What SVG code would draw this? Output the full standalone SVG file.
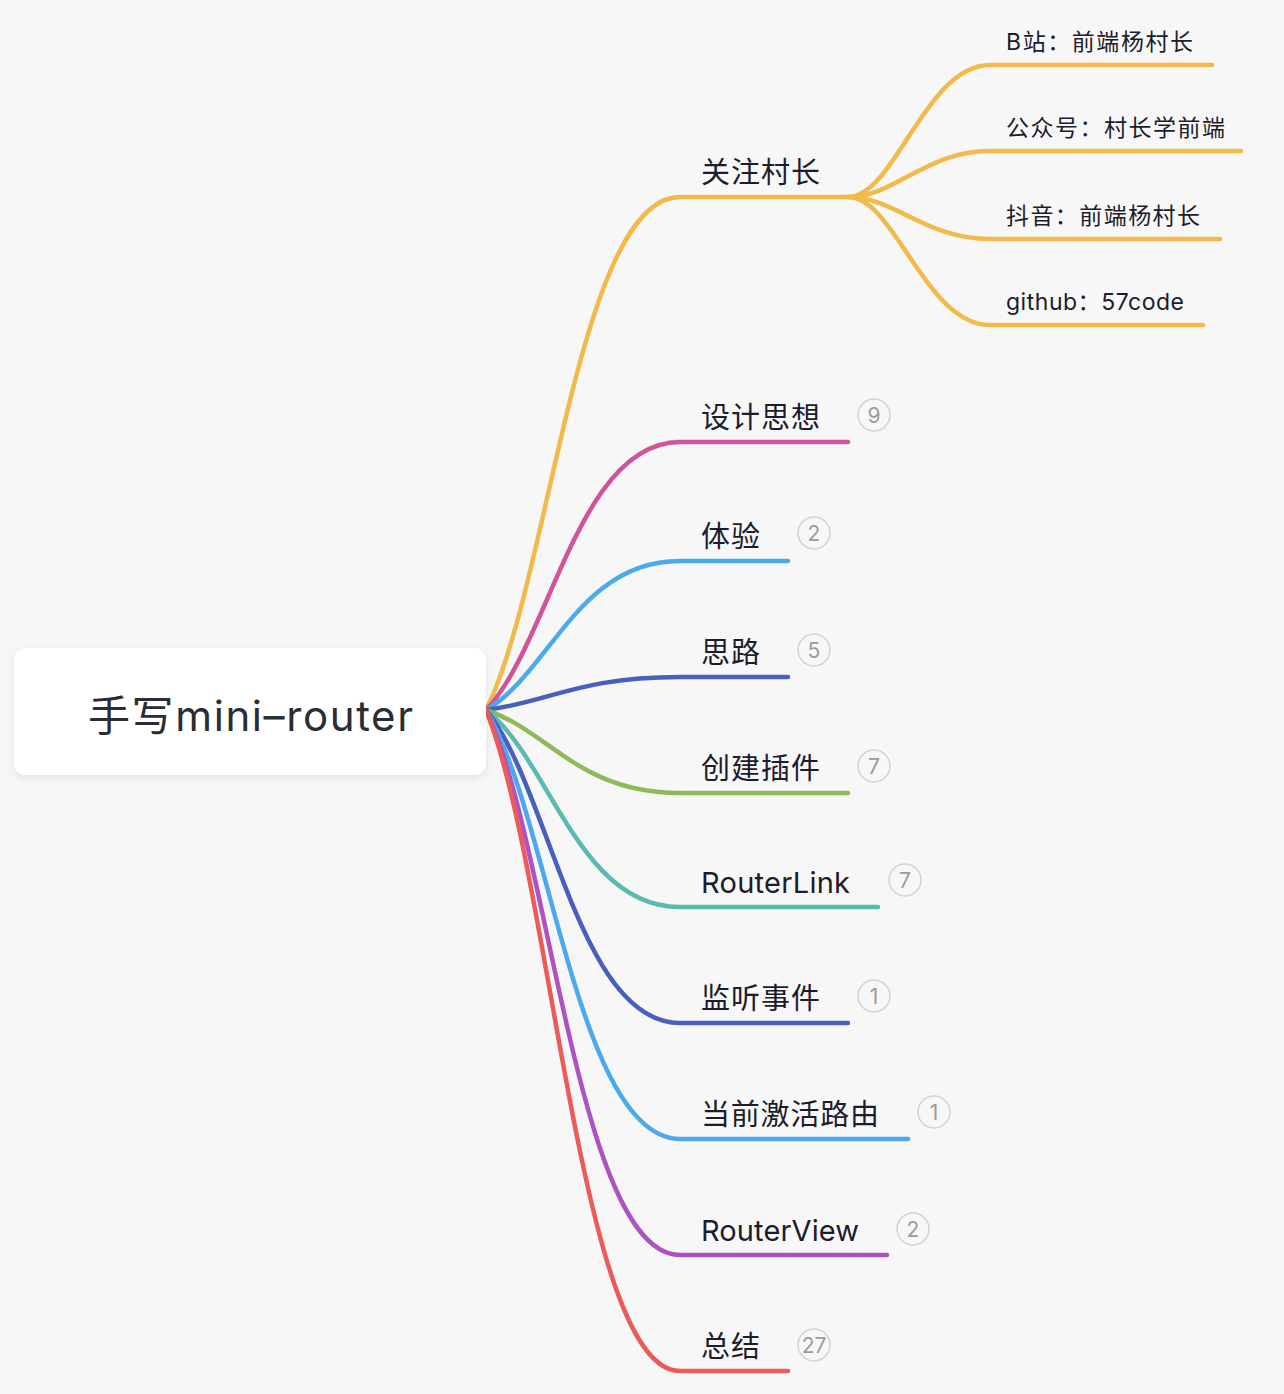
<svg xmlns="http://www.w3.org/2000/svg" width="1284" height="1394" viewBox="0 0 1284 1394">
<defs>
<filter id="shadow" x="-10%" y="-20%" width="120%" height="150%">
<feDropShadow dx="0" dy="3" stdDeviation="4" flood-color="#000" flood-opacity="0.09"/>
</filter>
<style>
.bg{fill:#f7f7f7}
.conn{fill:none;stroke-width:4.5;stroke-linecap:round;stroke-linejoin:round}
.lbl{font-family:Inter,"Noto Sans CJK SC",sans-serif;font-size:29px;fill:#1c1c2c}
.sub{font-family:Inter,"Noto Sans CJK SC",sans-serif;font-size:23px;fill:#1c1c2c}
.root{font-family:Inter,"Noto Sans CJK SC",sans-serif;font-size:42px;fill:#2b2d35}
.badge circle{fill:#f7f7f7;stroke:#d2d2d2;stroke-width:1.5}
.badge text{font-family:Inter,"Liberation Sans",sans-serif;font-size:21px;fill:#9b9b9b;text-anchor:middle}
</style>
</defs>
<rect class="bg" x="0" y="0" width="1284" height="1394"/>

<g id="connectors">
<path class="conn" stroke="#F2B94B" d="M486 710 C550 582 578 197 680 197 L848 197"/>
<path class="conn" stroke="#CF549A" d="M486 710 C550 643 578 442 680 442 L848 442"/>
<path class="conn" stroke="#4BAAEE" d="M486 710 C550 673 578 561 680 561 L788 561"/>
<path class="conn" stroke="#4760C0" d="M486 710 C550 702 578 677 680 677 L788 677"/>
<path class="conn" stroke="#8FBA59" d="M486 710 C550 731 578 793 680 793 L848 793"/>
<path class="conn" stroke="#5BBAB0" d="M486 710 C550 759 578 907 680 907 L878 907"/>
<path class="conn" stroke="#4760C0" d="M486 710 C550 788 578 1023 680 1023 L848 1023"/>
<path class="conn" stroke="#4BAAEE" d="M486 710 C550 817 578 1139 680 1139 L908 1139"/>
<path class="conn" stroke="#AD52C1" d="M486 710 C550 846 578 1255 680 1255 L887 1255"/>
<path class="conn" stroke="#EB5C58" d="M486 710 C552 875 580 1371 680 1371 L788 1371"/>
<path class="conn" stroke="#F2B94B" d="M848 197 C895 197 925 65 990 65 L1212 65"/>
<path class="conn" stroke="#F2B94B" d="M848 197 C895 197 925 151 990 151 L1241 151"/>
<path class="conn" stroke="#F2B94B" d="M848 197 C895 197 925 239 990 239 L1220 239"/>
<path class="conn" stroke="#F2B94B" d="M848 197 C895 197 925 325 990 325 L1203 325"/>
</g>

<g id="root">
<rect x="14" y="648" width="472" height="127" rx="12" fill="#ffffff" filter="url(#shadow)"/>
<text class="root" x="88" y="731" textLength="325">手写mini–router</text>
</g>

<g id="n1"><text class="lbl" x="701" y="183" textLength="119">关注村长</text></g>
<g id="n2"><text class="lbl" x="701" y="428" textLength="119">设计思想</text>
<g class="badge"><circle cx="874" cy="415" r="16"/><text x="874" y="422.5">9</text></g></g>
<g id="n3"><text class="lbl" x="701" y="547" textLength="59">体验</text>
<g class="badge"><circle cx="814" cy="533" r="16"/><text x="814" y="540.5">2</text></g></g>
<g id="n4"><text class="lbl" x="701" y="663" textLength="59">思路</text>
<g class="badge"><circle cx="814" cy="650" r="16"/><text x="814" y="657.5">5</text></g></g>
<g id="n5"><text class="lbl" x="701" y="779" textLength="119">创建插件</text>
<g class="badge"><circle cx="874" cy="766" r="16"/><text x="874" y="773.5">7</text></g></g>
<g id="n6"><text class="lbl" x="701" y="893" textLength="149">RouterLink</text>
<g class="badge"><circle cx="905" cy="880" r="16"/><text x="905" y="887.5">7</text></g></g>
<g id="n7"><text class="lbl" x="701" y="1009" textLength="119">监听事件</text>
<g class="badge"><circle cx="874" cy="996" r="16"/><text x="874" y="1003.5">1</text></g></g>
<g id="n8"><text class="lbl" x="701" y="1125" textLength="178">当前激活路由</text>
<g class="badge"><circle cx="934" cy="1112" r="16"/><text x="934" y="1119.5">1</text></g></g>
<g id="n9"><text class="lbl" x="701" y="1241" textLength="158">RouterView</text>
<g class="badge"><circle cx="913" cy="1229" r="16"/><text x="913" y="1236.5">2</text></g></g>
<g id="n10"><text class="lbl" x="701" y="1357" textLength="59">总结</text>
<g class="badge"><circle cx="814" cy="1345" r="16"/><text x="814" y="1352.5">27</text></g></g>

<g id="s1"><text class="sub" x="1006" y="49.5" textLength="187">B站：前端杨村长</text></g>
<g id="s2"><text class="sub" x="1006" y="135.5" textLength="219">公众号：村长学前端</text></g>
<g id="s3"><text class="sub" x="1006" y="223.5" textLength="194">抖音：前端杨村长</text></g>
<g id="s4"><text class="sub" x="1006" y="309.5" textLength="178">github：57code</text></g>
</svg>
